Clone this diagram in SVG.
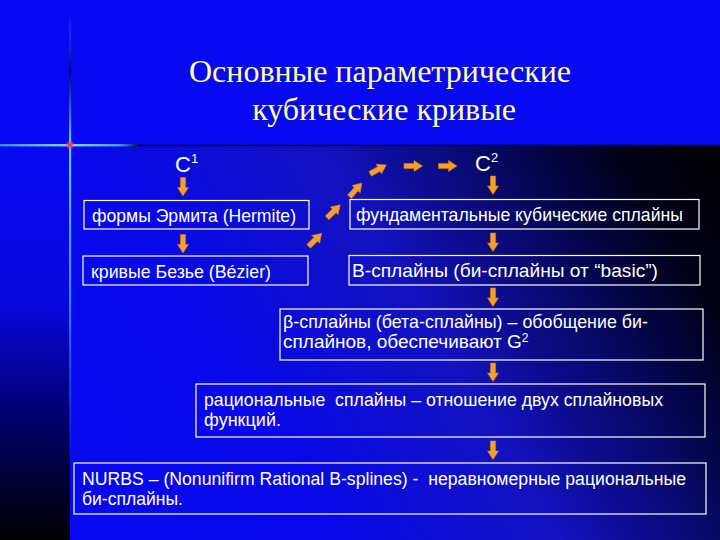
<svg xmlns="http://www.w3.org/2000/svg" width="720" height="540" viewBox="0 0 720 540">
<defs>
<linearGradient id="main" gradientUnits="userSpaceOnUse" x1="70" y1="540" x2="720" y2="145">
<stop offset="0" stop-color="#0808f2"/>
<stop offset="0.3" stop-color="#0808ea"/>
<stop offset="0.55" stop-color="#1212c0"/>
<stop offset="0.72" stop-color="#08086a"/>
<stop offset="0.88" stop-color="#000018"/>
<stop offset="1" stop-color="#000000"/>
</linearGradient>
<linearGradient id="left" x1="0" y1="0" x2="0" y2="1">
<stop offset="0" stop-color="#0808f2"/>
<stop offset="0.4" stop-color="#0808e0"/>
<stop offset="0.68" stop-color="#000070"/>
<stop offset="1" stop-color="#000000"/>
</linearGradient>
<linearGradient id="vline" gradientUnits="userSpaceOnUse" x1="0" y1="15" x2="0" y2="470">
<stop offset="0" stop-color="#40c0ff" stop-opacity="0"/>
<stop offset="0.12" stop-color="#000050" stop-opacity="0.8"/>
<stop offset="0.28" stop-color="#60d0ff" stop-opacity="1"/>
<stop offset="0.6" stop-color="#50c0ff" stop-opacity="0.7"/>
<stop offset="1" stop-color="#40a0ff" stop-opacity="0"/>
</linearGradient>
<linearGradient id="hline" gradientUnits="userSpaceOnUse" x1="0" y1="0" x2="140" y2="0">
<stop offset="0" stop-color="#3090ff"/>
<stop offset="0.5" stop-color="#80e0ff"/>
<stop offset="0.85" stop-color="#40a0ff"/>
<stop offset="1" stop-color="#000040"/>
</linearGradient>
<radialGradient id="dot">
<stop offset="0" stop-color="#ff2020"/>
<stop offset="0.5" stop-color="#ff4060" stop-opacity="0.7"/>
<stop offset="1" stop-color="#ff4060" stop-opacity="0"/>
</radialGradient>
<path id="arr" d="M-9,-2.6 H1 V-5.5 L9.5,0 L1,5.5 V2.6 H-9 Z"/>
</defs>
<style>
.box{fill:none;stroke:#ffffff;stroke-width:1.2}
.t{font-family:"Liberation Sans",Arial,sans-serif;font-size:19px;fill:#ffffff}
.c{font-family:"Liberation Sans",Arial,sans-serif;font-size:22px;fill:#ffffff}
.title{font-family:"Liberation Serif","Times New Roman",serif;font-size:32px;fill:#ffff99;text-anchor:middle}
.a{fill:#f5a02a;stroke:#d07810;stroke-width:0.6}
</style>
<rect x="0" y="0" width="720" height="540" fill="#0808f2"/>
<rect x="70" y="145" width="650" height="395" fill="url(#main)"/>
<rect x="0" y="145" width="70" height="395" fill="url(#left)"/>
<line x1="130" y1="145.5" x2="720" y2="145.5" stroke="#000030" stroke-width="1.5"/>
<rect x="69" y="15" width="2.2" height="455" fill="url(#vline)"/>
<rect x="0" y="144" width="140" height="2.4" fill="url(#hline)"/>
<circle cx="70" cy="145" r="5" fill="url(#dot)"/>
<g id="title">
<text class="title" x="380" y="82">Основные параметрические</text>
<text class="title" x="384" y="120">кубические кривые</text>
</g>
<g id="c1"><text class="c" x="175" y="172">C<tspan font-size="13" dy="-9">1</tspan></text></g>
<g id="c2"><text class="c" x="475" y="171">C<tspan font-size="13" dy="-9">2</tspan></text></g>
<g id="hermite">
<rect class="box" x="84" y="200.5" width="225" height="28.5"/>
<text class="t" x="92" y="222" textLength="204" lengthAdjust="spacingAndGlyphs">формы Эрмита (Hermite)</text>
</g>
<g id="bezier">
<rect class="box" x="83" y="256" width="225" height="29"/>
<text class="t" x="91" y="278" textLength="180" lengthAdjust="spacingAndGlyphs">кривые Безье (Bézier)</text>
</g>
<g id="fundamental">
<rect class="box" x="350" y="199.5" width="349" height="29.5"/>
<text class="t" x="356" y="221" textLength="327" lengthAdjust="spacingAndGlyphs">фундаментальные кубические сплайны</text>
</g>
<g id="bsplines">
<rect class="box" x="349" y="255.5" width="351" height="29.5"/>
<text class="t" x="352" y="277" textLength="306" lengthAdjust="spacingAndGlyphs">B-сплайны (би-сплайны от “basic”)</text>
</g>
<g id="beta">
<rect class="box" x="280" y="309" width="423" height="51"/>
<text class="t" x="283" y="328" textLength="365" lengthAdjust="spacingAndGlyphs">β-сплайны (бета-сплайны) – обобщение би-</text>
<text class="t" x="283" y="348">сплайнов, обеспечивают G<tspan font-size="12" dy="-6">2</tspan></text>
</g>
<g id="rational">
<rect class="box" x="196" y="384" width="509" height="53"/>
<text class="t" x="204" y="406" textLength="459" lengthAdjust="spacingAndGlyphs" xml:space="preserve">рациональные  сплайны – отношение двух сплайновых</text>
<text class="t" x="204" y="426" textLength="77" lengthAdjust="spacingAndGlyphs">функций.</text>
</g>
<g id="nurbs">
<rect class="box" x="74" y="463" width="632" height="51"/>
<text class="t" x="82" y="485" font-size="18" textLength="604" lengthAdjust="spacingAndGlyphs" xml:space="preserve" style="font-size:18px">NURBS – (Nonunifirm Rational B-splines) -  неравномерные рациональные</text>
<text class="t" x="82" y="505" textLength="101" lengthAdjust="spacingAndGlyphs">би-сплайны.</text>
</g>
<g id="connectors">
<use href="#arr" class="a" transform="translate(183,186.5) rotate(90)"/>
<use href="#arr" class="a" transform="translate(183,243.5) rotate(90)"/>
<use href="#arr" class="a" transform="translate(493,185) rotate(90)"/>
<use href="#arr" class="a" transform="translate(493,242) rotate(90)"/>
<use href="#arr" class="a" transform="translate(493,297) rotate(90)"/>
<use href="#arr" class="a" transform="translate(493,372) rotate(90)"/>
<use href="#arr" class="a" transform="translate(493,450) rotate(90)"/>
<use href="#arr" class="a" transform="translate(315,240) rotate(-45)"/>
<use href="#arr" class="a" transform="translate(333.5,211.5) rotate(-45)"/>
<use href="#arr" class="a" transform="translate(355.5,190) rotate(-48)"/>
<use href="#arr" class="a" transform="translate(378,169.5) rotate(-29)"/>
<use href="#arr" class="a" transform="translate(413,166)"/>
<use href="#arr" class="a" transform="translate(447.5,166)"/>
</g>
</svg>
